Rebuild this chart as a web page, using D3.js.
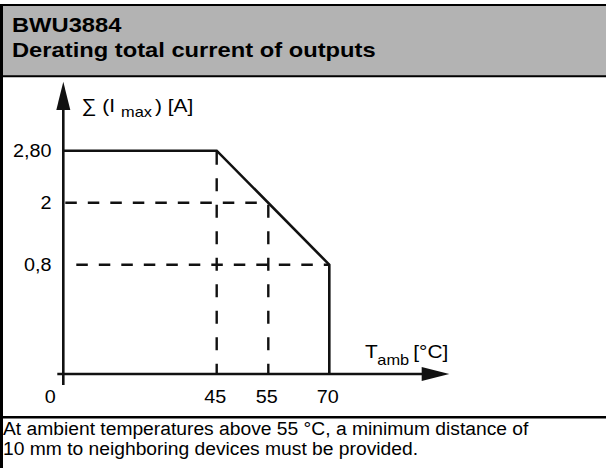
<!DOCTYPE html>
<html>
<head>
<meta charset="utf-8">
<script src="https://cdn.jsdelivr.net/npm/d3@7"></script>
<style>
  body { margin: 0; background: #fff; }
  svg { display: block; font-family: "Liberation Sans", Arial, sans-serif; }
</style>
</head>
<body>
<div id="chart"></div>
<script>
// temperature ticks (schematic, not to scale) and current ticks
const tempTicks = [0, 45, 55, 70];
const currentTicks = [0.8, 2, 2.8];
const currentLabels = ["0,8", "2", "2,80"];
const tempLabels = ["0", "45", "55", "70"];

// derating curve
const curveT = [0, 45, 70, 70];
const curveI = [2.8, 2.8, 0.8, 0];

// dashed reference lines: [temp, current]
const guideH = [[55, 2], [70, 0.8]];
const guideV = [[45, 2.8], [55, 2]];

const title1 = "BWU3884";
const title2 = "Derating total current of outputs";
const note1 = "At ambient temperatures above 55 °C, a minimum distance of";
const note2 = "10 mm to neighboring devices must be provided.";

const width = 606, height = 468;

const svg = d3.select("#chart").append("svg")
    .attr("width", width)
    .attr("height", height);

// the drawing is schematic, so both scales are piecewise
let x = d3.scaleLinear().domain(tempTicks).range([63.3, 216.7, 268.3, 329.3]);
let y = d3.scaleLinear().domain([0].concat(currentTicks)).range([374, 264.7, 202.7, 150.7]);

// the source font is a bit wider than Liberation Sans
function putText(sel, tx, ty, s) {
    sel.attr("transform", `translate(${tx},${ty}) scale(${s || 1.13},1)`);
}

// frame + header
svg.append("rect").attr("x", 0).attr("y", 5).attr("width", width).attr("height", 71)
    .attr("fill", "#b3b3b3");
svg.append("line").attr("x1", 0).attr("x2", width).attr("y1", 5).attr("y2", 5)
    .attr("stroke", "#000").attr("stroke-width", 2);
svg.append("line").attr("x1", 0).attr("x2", width).attr("y1", 76.3).attr("y2", 76.3)
    .attr("stroke", "#000").attr("stroke-width", 2);
svg.append("line").attr("x1", 0).attr("x2", width).attr("y1", 417.3).attr("y2", 417.3)
    .attr("stroke", "#000").attr("stroke-width", 2.5);
svg.append("line").attr("x1", 1.5).attr("x2", 1.5).attr("y1", 4).attr("y2", height)
    .attr("stroke", "#000").attr("stroke-width", 3);

svg.append("text").text(title1).attr("font-size", 21).attr("font-weight", "bold")
    .call(putText, 12, 31.7);
svg.append("text").text(title2).attr("font-size", 21).attr("font-weight", "bold")
    .call(putText, 12, 56.7);

svg.append("text").text(note1).attr("font-size", 18).call(putText, 3, 435, 1.07);
svg.append("text").text(note2).attr("font-size", 18).call(putText, 3, 455, 1.07);

// chart
let g = svg.append("g");
let ink = "#111";

// dashed guides
g.selectAll(".gh")
    .data(guideH)
    .enter()
    .append("line")
    .attr("x1", x(0) + 2)
    .attr("x2", d => x(d[0]))
    .attr("y1", d => y(d[1]))
    .attr("y2", d => y(d[1]))
    .attr("stroke", ink)
    .attr("stroke-width", 2.4)
    .attr("stroke-dasharray", "11.5,11")
    .attr("stroke-dashoffset", (d, i) => i ? 11.5 : 0);

g.selectAll(".gv")
    .data(guideV)
    .enter()
    .append("line")
    .attr("x1", d => x(d[0]))
    .attr("x2", d => x(d[0]))
    .attr("y1", d => y(d[1]))
    .attr("y2", y(0))
    .attr("stroke", ink)
    .attr("stroke-width", 2.4)
    .attr("stroke-dasharray", "13,13.5")
    .attr("stroke-dashoffset", (d, i) => i ? -2 : -1);

// derating curve
let curve = d3.line().x(d => x(d[0])).y(d => y(d[1]));
g.append("path")
    .attr("d", curve(curveT.map((t, i) => [t, curveI[i]])))
    .attr("fill", "none")
    .attr("stroke", ink)
    .attr("stroke-width", 2.6)
    .attr("stroke-linejoin", "miter");

// axes with arrows
let x0 = x(0), y0 = y(0);
let xEnd = 449.3, yEnd = 81.7;
g.append("line").attr("x1", x0 - 6).attr("x2", xEnd - 20).attr("y1", y0).attr("y2", y0)
    .attr("stroke", ink).attr("stroke-width", 2.6);
g.append("line").attr("x1", x0).attr("x2", x0).attr("y1", y0 + 11).attr("y2", yEnd + 20)
    .attr("stroke", ink).attr("stroke-width", 2.6);
g.append("path")
    .attr("d", `M${xEnd},${y0} L${xEnd - 27.6},${y0 - 7} L${xEnd - 27.6},${y0 + 7} Z`)
    .attr("fill", ink);
g.append("path")
    .attr("d", `M${x0},${yEnd} L${x0 - 7},${yEnd + 28.3} L${x0 + 7},${yEnd + 28.3} Z`)
    .attr("fill", ink);

// tick labels
g.selectAll(".yl")
    .data(currentTicks)
    .enter()
    .append("text")
    .text((d, i) => currentLabels[i])
    .attr("font-size", 17.5)
    .attr("text-anchor", "end")
    .each(function(d) { d3.select(this).call(putText, 51.5, y(d) + 6.4); });

g.selectAll(".xl")
    .data(tempTicks)
    .enter()
    .append("text")
    .text((d, i) => tempLabels[i])
    .attr("font-size", 17.5)
    .attr("text-anchor", "middle")
    .each(function(d) { d3.select(this).call(putText, d === 0 ? x(d) - 13 : x(d) - 1.5, 402.7); });

// axis titles
g.append("text").text("∑ (I").attr("font-size", 18.5).call(putText, 81.5, 112.3);
g.append("text").text("max").attr("font-size", 14.5).call(putText, 121, 116.5);
g.append("text").text(") [A]").attr("font-size", 18.5).call(putText, 155, 112.3);

g.append("text").text("T").attr("font-size", 18.5).call(putText, 365, 358);
g.append("text").text("amb").attr("font-size", 14.5).call(putText, 377.3, 365);
g.append("text").text("[°C]").attr("font-size", 18.5).call(putText, 413.3, 358);
</script>
</body>
</html>
